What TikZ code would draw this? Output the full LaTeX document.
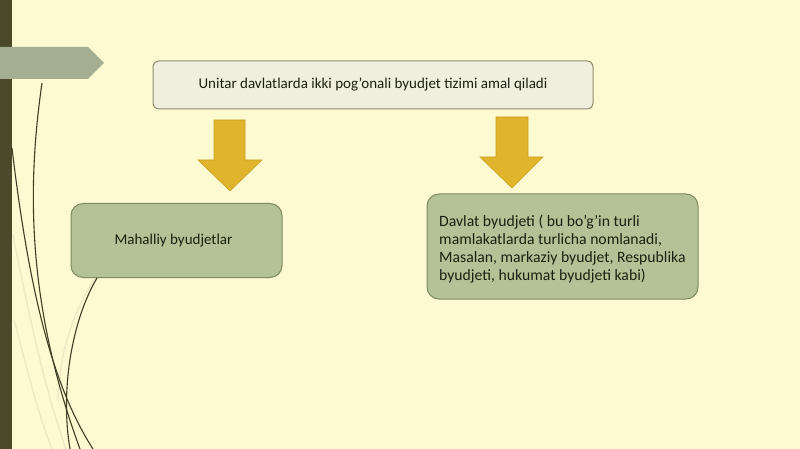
\documentclass[tikz,border=0pt]{standalone}
\usepackage{fontspec}
\setmainfont{Carlito}
\definecolor{bg}{HTML}{FDFAD2}
\definecolor{barc}{HTML}{4A4A2A}
\definecolor{banner}{HTML}{A4AE91}
\definecolor{topfill}{HTML}{EEEFDF}
\definecolor{topline}{HTML}{8E8E70}
\definecolor{grfill}{HTML}{B5C196}
\definecolor{grline}{HTML}{7F8A5E}
\definecolor{gold}{HTML}{E0B42B}
\definecolor{golddark}{HTML}{C9A126}
\definecolor{txt}{HTML}{1C200F}
\definecolor{curve}{HTML}{3E3E22}
\definecolor{faint}{HTML}{EEE8C4}
\tikzset{
  topbox/.style={draw=topline, line width=1pt, fill=topfill, rounded corners=6pt,
    minimum width=440pt, minimum height=48pt, inner sep=0pt, text=txt,
    font=\fontsize{15}{18}\selectfont},
  grbox/.style={draw=grline, line width=1pt, fill=grfill, rounded corners=12pt,
    inner sep=0pt, text=txt},
  goldarrow/.style={fill=gold, draw=golddark, line width=0.6pt},
  vine/.style={draw=curve, line width=1.1pt},
  faintvine/.style={draw=faint, line width=1.4pt}
}
\begin{document}
\begin{tikzpicture}[x=1pt,y=-1pt]
\useasboundingbox (0,0) rectangle (800,449);
\fill[bg] (0,0) rectangle (800,449);
% left bar
\fill[barc] (0,0) rectangle (12,449);
% banner
\fill[banner] (0,47) -- (88,47) -- (104,63) -- (88,79) -- (0,79) -- cycle;
% faint vines
\draw[faintvine] (13,235) .. controls (30,320) and (45,390) .. (66,449);
\draw[faintvine] (14,320) .. controls (30,380) and (40,420) .. (52,449);
\draw[faintvine] (100,270) .. controls (80,300) and (60,340) .. (58,400);
% dark vines
\draw[vine] (42,83) .. controls (28,180) and (25,300) .. (80,449);
\draw[vine] (12,148) .. controls (30,300) and (55,390) .. (93,449);
% nodes
\node[topbox] (top) at (373,85) {Unitar davlatlarda ikki pog’onali byudjet tizimi amal qiladi};
\node[grbox, minimum width=211pt, minimum height=74pt, font=\fontsize{15}{18}\selectfont] (loc) at (176.5,240.5) {\hspace*{-6pt}Mahalliy byudjetlar};
\node[grbox, minimum width=271pt, minimum height=105pt] (state) at (562.5,246.5) {};
\node[anchor=west, inner sep=0pt, text=txt, align=left, font=\fontsize{15.7}{18}\selectfont] (statetext) at (439,249)
  {Davlat byudjeti ( bu bo’g’in turli\\mamlakatlarda turlicha nomlanadi,\\Masalan, markaziy byudjet, Respublika\\byudjeti, hukumat byudjeti kabi)};
% vine from left box
\draw[vine] (97,278) .. controls (72,320) and (60,390) .. (70,449);
% block arrows
\draw[goldarrow] (214,120) -- (245,120) -- (245,160) -- (262,160) -- (230,191) -- (198,160) -- (214,160) -- cycle;
\draw[goldarrow] (496,117) -- (528,117) -- (528,157) -- (543,157) -- (512,188) -- (480,157) -- (496,157) -- cycle;
\end{tikzpicture}
\end{document}
